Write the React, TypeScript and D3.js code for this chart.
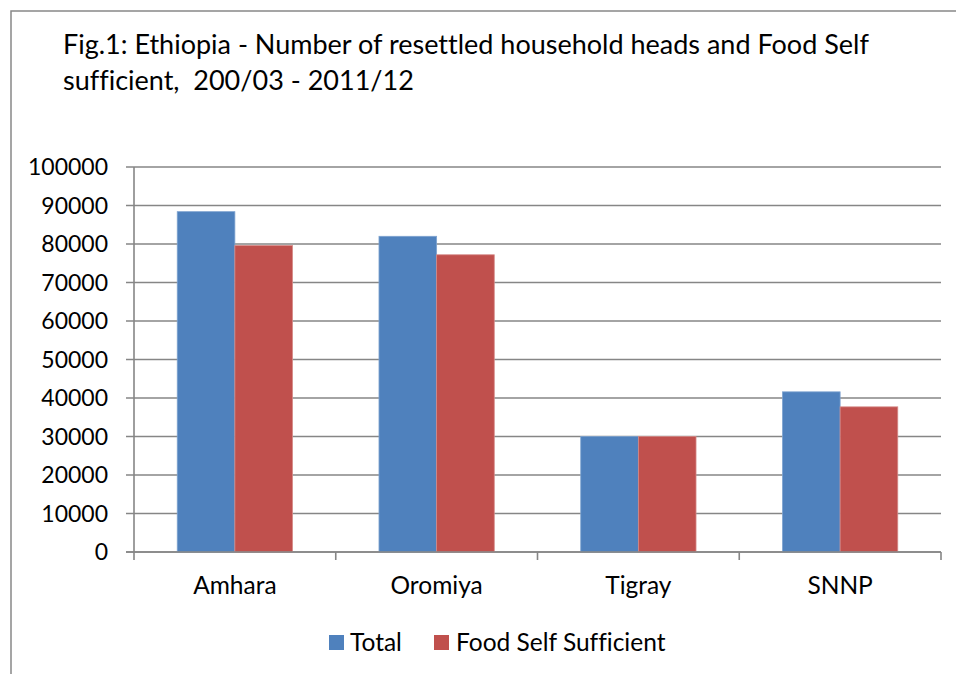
import React from 'react';
import * as d3 from 'd3';

const regions = ['Amhara', 'Oromiya', 'Tigray', 'SNNP'];
const seriesNames = ['Total', 'Food Self Sufficient'];
const totalValues = [88400, 82000, 30000, 41600];
const selfSufficientValues = [79600, 77200, 30000, 37700];
const yTicks = [0, 10000, 20000, 30000, 40000, 50000, 60000, 70000, 80000, 90000, 100000];
const titleLines = [
  'Fig.1: Ethiopia - Number of resettled household heads and Food Self',
  'sufficient,  200/03 - 2011/12',
];

const colors = ['#4F81BD', '#C0504D'];
const edgeColors = ['#7EA3D0', '#D58A88'];
const font = 'Lato, Calibri, Carlito, sans-serif';
const textStyle: React.CSSProperties = { whiteSpace: 'pre', fontVariantLigatures: 'none' };

const W = 956;
const H = 674;
const plot = { left: 134, right: 941, top: 167, bottom: 552 };

const App: React.FC = () => {
  const x0 = d3
    .scaleBand<string>()
    .domain(regions)
    .range([plot.left, plot.right])
    .paddingInner(1.5 / 3.5)
    .paddingOuter(0.75 / 3.5);

  const x1 = d3.scaleBand<string>().domain(seriesNames).range([0, x0.bandwidth()]);

  const y = d3.scaleLinear().domain([0, 100000]).range([plot.bottom, plot.top]);

  const step = x0.step();
  const catEdges = d3.range(regions.length + 1).map(i => plot.left + i * step);

  const rows = regions.map((r, i) => ({
    region: r,
    values: [totalValues[i], selfSufficientValues[i]],
  }));

  return (
    <svg width={W} height={H} style={{ position: 'absolute', left: 0, top: 0, display: 'block' }}>
      <rect x={0} y={0} width={W} height={H} fill="#fff" />
      {/* outer chart border, runs off the page on the right and bottom */}
      <rect x={11} y={11} width={W + 20} height={H + 20} fill="none" stroke="#888" strokeWidth={1.5} />

      {/* title */}
      <text fontFamily={font} fontSize={27} fill="#000" style={textStyle}>
        {titleLines.map((t, i) => (
          <tspan key={i} x={63} y={54 + i * 36}>
            {t}
          </tspan>
        ))}
      </text>

      {/* gridlines + y ticks */}
      {yTicks.map(t => (
        <g key={t}>
          <line x1={126} x2={plot.right} y1={y(t)} y2={y(t)} stroke="#868686" strokeWidth={1.6} />
          <text
            x={108}
            y={y(t)}
            dy="0.36em"
            textAnchor="end"
            fontFamily={font}
            fontSize={23}
            fill="#000"
          >
            {t}
          </text>
        </g>
      ))}

      {/* y axis line */}
      <line x1={plot.left} x2={plot.left} y1={plot.top} y2={plot.bottom} stroke="#868686" strokeWidth={1.6} />

      {/* category ticks */}
      {catEdges.map((cx, i) => (
        <line key={i} x1={cx} x2={cx} y1={plot.bottom} y2={plot.bottom + 8} stroke="#868686" strokeWidth={1.6} />
      ))}

      {/* bars */}
      {rows.map(row => (
        <g key={row.region} transform={`translate(${x0(row.region)},0)`}>
          {row.values.map((v, j) => (
            <rect
              key={j}
              x={x1(seriesNames[j])}
              y={y(v)}
              width={x1.bandwidth()}
              height={plot.bottom - y(v)}
              fill={colors[j]}
              stroke={edgeColors[j]}
              strokeWidth={0.8}
            />
          ))}
        </g>
      ))}

      {/* redraw baseline over bars */}
      <line x1={126} x2={plot.right} y1={plot.bottom} y2={plot.bottom} stroke="#868686" strokeWidth={1.6} />

      {/* category labels */}
      {regions.map(r => (
        <text
          key={r}
          x={(x0(r) as number) + x0.bandwidth() / 2}
          y={594}
          textAnchor="middle"
          fontFamily={font}
          fontSize={24.5}
          fill="#000"
          style={textStyle}
        >
          {r}
        </text>
      ))}

      {/* legend */}
      <g>
        <rect x={329} y={635} width={15} height={15} fill={colors[0]} />
        <text x={350} y={651} fontFamily={font} fontSize={24.5} fill="#000" style={textStyle}>
          {seriesNames[0]}
        </text>
        <rect x={434} y={635} width={15} height={15} fill={colors[1]} />
        <text x={456} y={651} fontFamily={font} fontSize={24.5} fill="#000" style={textStyle}>
          {seriesNames[1]}
        </text>
      </g>
    </svg>
  );
};

export default App;
